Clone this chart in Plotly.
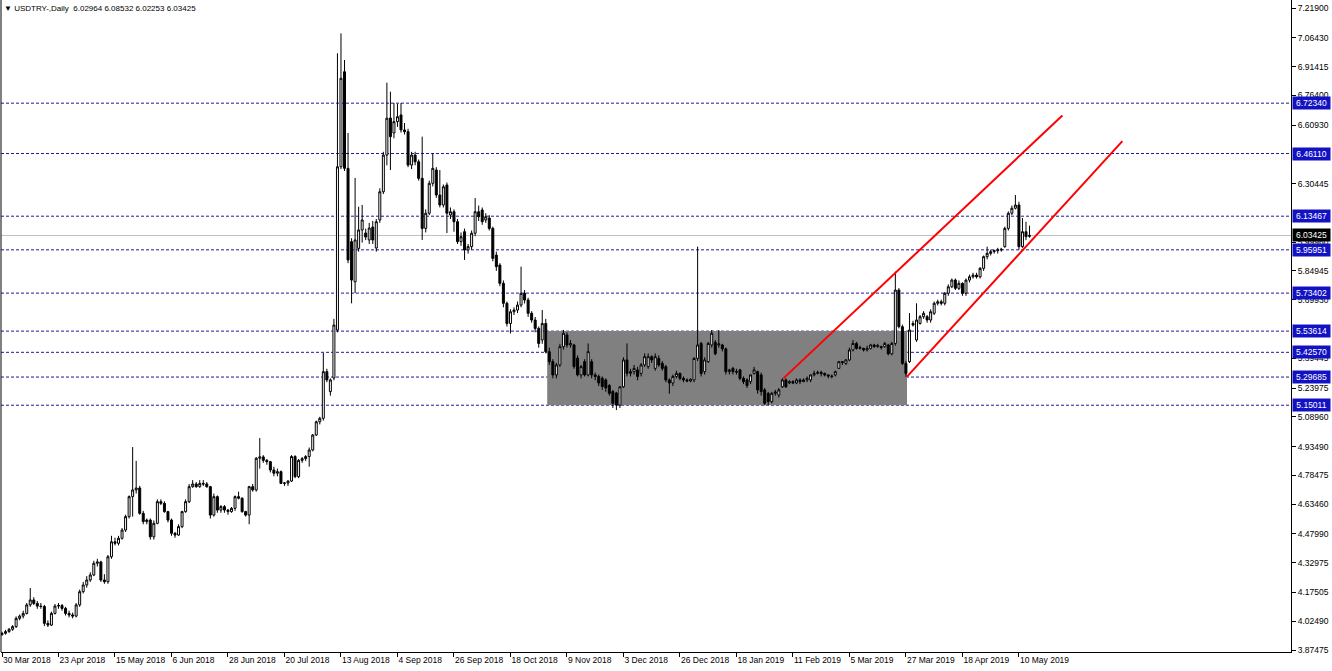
import plotly.graph_objects as go

symbol_title = "USDTRY-,Daily"

# ---------------- data (daily bars) ----------------
opens = [
    3.955,3.962,3.971,3.983,3.997,4.040,4.052,4.066,4.110,4.136,
    4.118,4.104,4.102,4.014,4.005,4.066,4.104,4.107,4.092,4.066,
    4.058,4.052,4.110,4.179,4.214,4.240,4.266,4.327,4.334,4.240,
    4.231,4.361,4.439,4.431,4.457,4.500,4.570,4.674,4.709,4.719,
    4.587,4.544,4.552,4.465,4.535,4.648,4.639,4.596,4.552,4.483,
    4.474,4.518,4.596,4.648,4.726,4.740,4.726,4.743,4.740,4.726,
    4.578,4.674,4.604,4.622,4.604,4.596,4.613,4.674,4.666,4.596,
    4.578,4.726,4.709,4.874,4.881,4.863,4.856,4.813,4.796,4.804,
    4.743,4.745,4.755,4.883,4.778,4.863,4.872,4.883,4.917,4.995,
    5.064,5.082,5.325,5.221,5.292,
    5.542,6.392,6.887,6.384,6.002,5.793,5.967,6.063,6.047,6.011,
    6.078,5.969,6.115,6.262,6.453,6.646,6.568,6.627,6.662,6.584,
    6.575,6.401,6.453,6.418,6.332,6.071,6.150,6.306,6.375,6.245,
    6.193,6.297,6.141,6.158,6.106,6.002,6.054,5.959,5.976,6.046,
    6.158,6.167,6.115,6.125,6.071,5.932,5.880,5.785,5.681,5.576,
    5.637,5.646,5.672,5.733,5.698,5.629,5.594,5.550,5.490,5.576,
    5.429,5.377,5.308,5.360,5.455,5.516,5.464,5.464,5.396,5.308,
    5.377,5.308,5.377,5.308,5.300,5.290,5.282,5.253,5.221,5.214,
    5.151,5.246,5.386,5.316,5.325,5.334,5.316,5.360,5.351,5.403,
    5.342,5.394,5.368,5.351,5.282,5.266,5.300,5.316,5.290,5.282,
    5.276,5.282,5.394,5.472,5.325,5.377,5.464,5.478,5.464,5.464,
    5.444,5.325,5.342,5.325,5.334,5.290,5.282,5.273,5.316,5.325,
    5.308,5.230,5.212,5.169,5.212,5.203,5.246,5.282,5.266,5.273,
    5.266,5.282,5.273,5.282,5.282,5.308,5.316,5.321,5.316,5.308,
    5.302,5.308,5.342,5.377,5.368,5.386,5.438,5.472,5.446,5.446,
    5.438,5.446,5.464,5.455,5.455,5.455,5.464,5.418,5.472,5.750,
    5.559,5.368,5.377,5.576,5.490,5.576,5.611,5.611,5.594,5.629,
    5.681,5.689,5.681,5.733,5.767,5.802,5.759,5.785,5.733,5.802,
    5.819,5.828,5.819,5.863,5.924,5.941,5.950,5.955,5.959,5.976,
    6.071,6.150,6.176,6.193,5.976,6.054,6.02964,
]
highs = [
    3.970,3.980,3.990,4.005,4.050,4.060,4.080,4.120,4.198,4.150,
    4.130,4.120,4.110,4.030,4.075,4.115,4.120,4.115,4.100,4.080,
    4.070,4.120,4.190,4.230,4.260,4.280,4.340,4.350,4.340,4.270,
    4.370,4.470,4.460,4.470,4.510,4.580,4.680,4.932,4.860,4.730,
    4.600,4.560,4.560,4.550,4.660,4.660,4.650,4.600,4.560,4.490,
    4.530,4.600,4.660,4.740,4.760,4.750,4.760,4.760,4.750,4.730,
    4.690,4.680,4.630,4.630,4.610,4.620,4.680,4.700,4.670,4.600,
    4.730,4.740,4.880,4.979,4.890,4.870,4.860,4.830,4.820,4.810,
    4.750,4.760,4.890,4.890,4.870,4.880,4.890,4.930,5.000,5.070,
    5.090,5.422,5.340,5.290,5.600,
    6.983,7.087,6.948,6.568,6.020,6.334,6.184,6.193,6.070,6.100,
    6.110,6.120,6.280,6.470,6.830,6.783,6.724,6.720,6.724,6.620,
    6.590,6.470,6.470,6.430,6.549,6.170,6.320,6.464,6.390,6.375,
    6.300,6.310,6.180,6.170,6.120,6.050,6.070,5.990,6.060,6.229,
    6.190,6.180,6.150,6.140,6.080,5.950,5.890,5.800,5.690,5.650,
    5.660,5.690,5.872,5.750,5.710,5.640,5.610,5.560,5.646,5.600,
    5.450,5.390,5.370,5.470,5.542,5.530,5.490,5.470,5.410,5.360,
    5.390,5.472,5.390,5.320,5.310,5.300,5.290,5.260,5.230,5.220,
    5.250,5.400,5.472,5.340,5.360,5.350,5.370,5.420,5.420,5.410,
    5.420,5.410,5.380,5.360,5.290,5.310,5.330,5.320,5.300,5.290,
    5.290,5.400,5.976,5.480,5.400,5.480,5.542,5.490,5.542,5.470,
    5.450,5.340,5.350,5.340,5.340,5.300,5.290,5.310,5.350,5.330,
    5.320,5.240,5.220,5.220,5.230,5.240,5.290,5.290,5.280,5.280,
    5.290,5.290,5.290,5.300,5.310,5.330,5.330,5.330,5.320,5.310,
    5.310,5.330,5.380,5.380,5.390,5.450,5.490,5.480,5.460,5.450,
    5.460,5.470,5.470,5.470,5.460,5.480,5.470,5.480,5.846,5.760,
    5.570,5.380,5.630,5.590,5.681,5.620,5.640,5.620,5.650,5.690,
    5.700,5.700,5.740,5.780,5.810,5.810,5.800,5.790,5.810,5.830,
    5.840,5.840,5.870,5.930,5.976,5.960,5.960,5.970,5.970,6.080,
    6.160,6.190,6.245,6.210,6.125,6.106,6.08532,
]
lows = [
    3.950,3.955,3.965,3.975,3.990,4.030,4.040,4.060,4.100,4.110,
    4.090,4.090,4.000,3.995,4.000,4.060,4.090,4.080,4.055,4.045,
    4.040,4.045,4.100,4.170,4.200,4.230,4.260,4.310,4.230,4.220,
    4.220,4.350,4.420,4.420,4.450,4.490,4.560,4.570,4.690,4.580,
    4.530,4.530,4.450,4.450,4.530,4.630,4.590,4.540,4.470,4.460,
    4.470,4.510,4.590,4.640,4.720,4.720,4.720,4.730,4.720,4.560,
    4.570,4.590,4.590,4.590,4.580,4.590,4.600,4.660,4.590,4.570,
    4.530,4.700,4.700,4.820,4.850,4.840,4.800,4.780,4.780,4.740,
    4.730,4.730,4.750,4.770,4.770,4.850,4.860,4.830,4.910,4.990,
    5.050,5.070,5.270,5.200,5.280,
    5.530,6.380,6.370,5.890,5.681,5.734,5.950,5.997,6.010,5.990,
    5.990,5.950,6.100,6.250,6.400,6.375,6.540,6.600,6.570,6.560,
    6.390,6.380,6.400,6.320,6.011,6.050,6.140,6.290,6.230,6.180,
    6.180,6.047,6.120,6.054,5.990,5.980,5.907,5.940,5.960,6.030,
    6.110,6.090,6.100,6.060,5.900,5.850,5.770,5.660,5.560,5.524,
    5.620,5.630,5.660,5.680,5.610,5.580,5.530,5.450,5.470,5.420,
    5.360,5.290,5.290,5.350,5.440,5.450,5.450,5.340,5.300,5.290,
    5.300,5.300,5.290,5.280,5.250,5.230,5.220,5.200,5.136,5.125,
    5.136,5.240,5.300,5.300,5.310,5.280,5.300,5.350,5.340,5.370,
    5.330,5.350,5.330,5.270,5.210,5.250,5.290,5.280,5.270,5.270,
    5.270,5.270,5.380,5.300,5.310,5.370,5.450,5.410,5.450,5.430,
    5.310,5.310,5.310,5.310,5.280,5.260,5.240,5.260,5.310,5.210,
    5.200,5.150,5.150,5.160,5.200,5.190,5.240,5.240,5.260,5.260,
    5.260,5.260,5.270,5.270,5.270,5.300,5.310,5.300,5.300,5.290,
    5.290,5.300,5.340,5.360,5.360,5.380,5.430,5.440,5.440,5.430,
    5.430,5.440,5.450,5.450,5.440,5.450,5.410,5.410,5.460,5.550,
    5.360,5.298,5.370,5.560,5.480,5.570,5.600,5.580,5.580,5.620,
    5.670,5.670,5.670,5.720,5.760,5.750,5.750,5.720,5.720,5.790,
    5.810,5.810,5.810,5.850,5.910,5.930,5.940,5.940,5.950,5.970,
    6.060,6.140,6.170,5.960,5.970,6.010,6.02253,
]
closes = [
    3.962,3.971,3.983,3.997,4.040,4.052,4.066,4.110,4.136,4.118,
    4.104,4.102,4.014,4.005,4.066,4.104,4.107,4.092,4.066,4.058,
    4.052,4.110,4.179,4.214,4.240,4.266,4.327,4.334,4.240,4.231,
    4.361,4.439,4.431,4.457,4.500,4.570,4.674,4.709,4.719,4.587,
    4.544,4.552,4.465,4.535,4.648,4.639,4.596,4.552,4.483,4.474,
    4.518,4.596,4.648,4.726,4.740,4.726,4.743,4.740,4.726,4.578,
    4.674,4.604,4.622,4.604,4.596,4.613,4.674,4.666,4.596,4.578,
    4.726,4.709,4.874,4.881,4.863,4.856,4.813,4.796,4.804,4.743,
    4.745,4.755,4.883,4.778,4.863,4.872,4.883,4.917,4.995,5.064,
    5.082,5.325,5.282,5.282,5.568,
    6.392,6.853,6.384,5.907,5.802,6.011,6.063,6.115,6.026,6.073,
    6.011,6.106,6.262,6.453,6.645,6.549,6.627,6.653,6.584,6.575,
    6.401,6.453,6.418,6.332,6.071,6.150,6.306,6.384,6.245,6.193,
    6.288,6.150,6.158,6.106,6.002,6.028,5.959,5.976,6.046,6.158,
    6.132,6.106,6.132,6.071,5.915,5.872,5.785,5.681,5.576,5.637,
    5.646,5.672,5.733,5.698,5.629,5.594,5.550,5.472,5.576,5.429,
    5.377,5.308,5.360,5.455,5.525,5.464,5.472,5.351,5.308,5.351,
    5.308,5.429,5.308,5.300,5.266,5.248,5.240,5.212,5.160,5.151,
    5.246,5.386,5.316,5.325,5.342,5.300,5.360,5.403,5.403,5.386,
    5.403,5.360,5.342,5.282,5.266,5.300,5.316,5.290,5.282,5.276,
    5.285,5.394,5.464,5.316,5.386,5.472,5.525,5.418,5.469,5.444,
    5.325,5.334,5.325,5.323,5.290,5.273,5.253,5.308,5.334,5.230,
    5.221,5.160,5.169,5.212,5.219,5.230,5.282,5.246,5.273,5.266,
    5.282,5.273,5.282,5.290,5.308,5.316,5.321,5.316,5.308,5.302,
    5.300,5.325,5.377,5.373,5.386,5.438,5.472,5.446,5.451,5.438,
    5.446,5.464,5.455,5.461,5.451,5.472,5.418,5.472,5.750,5.559,
    5.368,5.316,5.542,5.568,5.594,5.611,5.629,5.594,5.637,5.681,
    5.689,5.681,5.733,5.767,5.802,5.759,5.785,5.733,5.802,5.819,
    5.828,5.819,5.863,5.924,5.941,5.950,5.955,5.959,5.962,6.071,
    6.150,6.176,6.193,5.976,6.054,6.028,6.03425,
]

# x-axis date labels (one every 16 bars)
date_labels = ["30 Mar 2018", "23 Apr 2018", "15 May 2018", "6 Jun 2018", "28 Jun 2018",
               "20 Jul 2018", "13 Aug 2018", "4 Sep 2018", "26 Sep 2018", "18 Oct 2018",
               "9 Nov 2018", "3 Dec 2018", "26 Dec 2018", "18 Jan 2019", "11 Feb 2019",
               "5 Mar 2019", "27 Mar 2019", "18 Apr 2019", "10 May 2019"]
label_step = 16

# price-axis ticks that are visible (others are hidden under the level labels)
price_ticks = [7.21900, 7.06430, 6.91415, 6.76400, 6.60930, 6.30445,
               5.99960, 5.84945, 5.69930, 5.39445, 5.23975, 5.08960, 4.93490,
               4.78475, 4.63460, 4.47990, 4.32975, 4.17505, 4.02490, 3.87475]

# horizontal levels drawn on the chart
levels = [6.72340, 6.46110, 6.13467, 5.95951, 5.73402, 5.53614, 5.42570, 5.29685, 5.15011]
current_price = 6.03425

# consolidation box (bar index range, price range)
box_bars = [154.4, 256.3]
box_prices = [5.15011, 5.53614]

# red trend lines: (bar0, price0, bar1, price1)
trend_upper = [221.3, 5.290, 300.3, 6.659]
trend_lower = [256.3, 5.299, 317.3, 6.526]

# ---------------- figure ----------------
n = len(closes)
xs = list(range(n))
FONT = "Liberation Sans, Arial, sans-serif"
FS = 8.5

fig = go.Figure()
fig.add_trace(go.Candlestick(
    x=xs, open=opens, high=highs, low=lows, close=closes,
    increasing=dict(line=dict(color="black", width=1), fillcolor="white"),
    decreasing=dict(line=dict(color="black", width=1), fillcolor="black"),
    whiskerwidth=0, hoverinfo="skip", showlegend=False,
))

shapes = []
shapes.append(dict(type="rect", xref="x", yref="y", x0=box_bars[0], x1=box_bars[1],
                   y0=box_prices[0], y1=box_prices[1], fillcolor="#808080",
                   line=dict(width=0), layer="below"))
shapes.append(dict(type="line", xref="paper", yref="y", x0=0, x1=1,
                   y0=current_price, y1=current_price,
                   line=dict(color="#c0c0c0", width=1), layer="below"))
for lv in levels:
    shapes.append(dict(type="line", xref="paper", yref="y", x0=0, x1=1, y0=lv, y1=lv,
                       line=dict(color="#1c1c9a", width=1, dash="3px,2px"), layer="below"))
for t in (trend_upper, trend_lower):
    shapes.append(dict(type="line", xref="x", yref="y", x0=t[0], y0=t[1], x1=t[2], y1=t[3],
                       line=dict(color="#ff0000", width=2), layer="above"))
# left frame border
shapes.append(dict(type="line", xref="paper", yref="paper", x0=0, x1=0, y0=0, y1=1,
                   line=dict(color="#000000", width=1)))

annotations = []
annotations.append(dict(
    xref="paper", yref="paper", x=0, y=1, xanchor="left", yanchor="top",
    xshift=1, yshift=-2, showarrow=False, align="left",
    text="\u25bc %s  %.5f %.5f %.5f %.5f" % (symbol_title, opens[-1], highs[-1], lows[-1], closes[-1]),
    font=dict(family=FONT, size=8, color="black")))
for lv in levels:
    annotations.append(dict(xref="paper", yref="y", x=1, y=lv, xanchor="left", yanchor="middle",
                            xshift=1, showarrow=False, text="%.5f" % lv, width=35, align="center",
                            font=dict(family=FONT, size=FS, color="white"),
                            bgcolor="#1212c4", borderpad=1))
annotations.append(dict(xref="paper", yref="y", x=1, y=current_price, xanchor="left",
                        yanchor="middle", xshift=1, showarrow=False, text="%.5f" % current_price,
                        width=35, align="center",
                        font=dict(family=FONT, size=FS, color="white"),
                        bgcolor="#000000", borderpad=1))

bar_px = 3.531
fig.update_layout(
    width=1332, height=671,
    margin=dict(l=1, r=41, t=0, b=19),
    paper_bgcolor="white", plot_bgcolor="white",
    shapes=shapes, annotations=annotations,
    hovermode=False, showlegend=False, boxgap=0.2,
    font=dict(family=FONT, size=FS, color="black"),
)
fig.update_xaxes(
    range=[-1.0 / bar_px, 1289.0 / bar_px],
    tickvals=[i * label_step for i in range(len(date_labels))],
    ticktext=date_labels, tickangle=0,
    ticks="outside", ticklen=4, tickcolor="black", ticklabelposition="outside right",
    showline=True, linecolor="black", linewidth=1,
    showgrid=False, zeroline=False,
    rangeslider=dict(visible=False),
    tickfont=dict(family=FONT, size=FS, color="black"),
)
fig.update_yaxes(
    side="right",
    range=[7.2607 - 652 / 192.0, 7.2607],
    tickvals=price_ticks, ticktext=["%.5f" % v for v in price_ticks],
    ticks="outside", ticklen=4, tickcolor="black",
    showline=True, linecolor="black", linewidth=1,
    showgrid=False, zeroline=False,
    tickfont=dict(family=FONT, size=FS, color="black"),
)

fig.write_html("out.html", config={"displayModeBar": False},
               post_script="document.body.style.margin='0px';document.body.style.overflow='hidden';")
